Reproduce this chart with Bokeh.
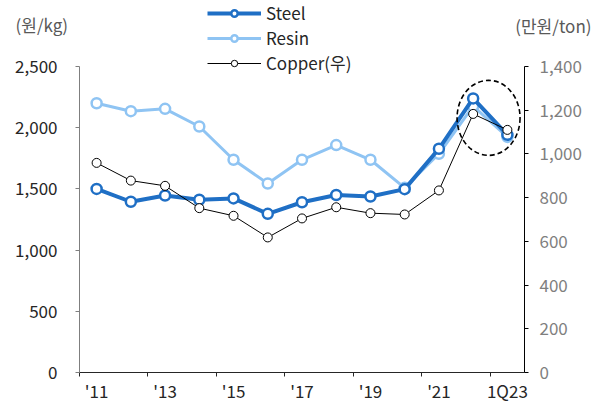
from bokeh.plotting import figure
from bokeh.models import (Range1d, LinearAxis, FixedTicker, NumeralTickFormatter,
                          Legend, LegendItem, Label)
from bokeh.embed import file_html
from bokeh.resources import INLINE

# ---- data ----
categories = ["'11", "'12", "'13", "'14", "'15", "'16", "'17", "'18", "'19", "'20", "'21", "'22", "1Q23"]
steel = [1500, 1395, 1446, 1411, 1422, 1296, 1391, 1450, 1438, 1498, 1828, 2239, 1942]    # 원/kg
resin = [2200, 2135, 2154, 2010, 1738, 1544, 1738, 1858, 1738, 1509, 1787, 2176, 1925]    # 원/kg
copper = [959, 878, 854, 752, 717, 618, 705, 756, 729, 723, 833, 1183, 1110]              # 만원/ton (right)
left_ticks = [0, 500, 1000, 1500, 2000, 2500]
right_ticks = [0, 200, 400, 600, 800, 1000, 1200, 1400]
series_names = ["Steel", "Resin", "Copper(우)"]
left_unit = "(원/kg)"
right_unit = "(만원/ton)"

FONT = "Noto Sans CJK KR"
STEEL_C = "#1f6fc5"
RESIN_C = "#8fc4f3"
COPPER_C = "#000000"

# ---- layout (pixels) ----
W, H = 601, 403
PL, PR, PT, PB = 79, 524, 66, 372      # plot box edges inside the canvas

n = len(categories)
xs = list(range(n))
x0, x1 = -0.5, n - 0.5
kx = (PR - PL) / (x1 - x0)
ly0, ly1 = left_ticks[0], left_ticks[-1]
ky = (PB - PT) / (ly1 - ly0)
ry0, ry1 = right_ticks[0], right_ticks[-1]
kr = (PB - PT) / (ry1 - ry0)

x_range = Range1d(x0 - PL / kx, x1 + (W - PR) / kx)
y_range = Range1d(ly0 - (H - PB) / ky, ly1 + PT / ky)
r_range = Range1d(ry0 - (H - PB) / kr, ry1 + PT / kr)

p = figure(width=W, height=H, output_backend="svg", toolbar_location=None,
           x_range=x_range, y_range=y_range, x_axis_location=None, y_axis_location=None,
           min_border=0)
p.extra_y_ranges = {"right": r_range}
p.outline_line_color = None
p.grid.visible = False
p.background_fill_color = "white"
p.border_fill_color = "white"

# x axis: labels at every other category, tick marks at category boundaries
shown = list(range(0, n, 2))
xax = LinearAxis(fixed_location=ly0, bounds=(x0, x1))
xax.ticker = FixedTicker(ticks=shown, minor_ticks=[i - 0.5 for i in shown])
xax.major_label_overrides = {i: categories[i] for i in shown}
xax.major_tick_out = 0
xax.major_tick_in = 0
xax.minor_tick_out = 4
xax.minor_tick_in = 0
xax.minor_tick_line_color = "#262626"
xax.axis_line_color = "#262626"
xax.major_label_standoff = 1
xax.major_label_text_font = FONT
xax.major_label_text_font_size = "17px"
xax.major_label_text_color = "#262626"
p.add_layout(xax, "below")

# left axis
yax = LinearAxis(fixed_location=x0, bounds=(ly0, ly1))
yax.ticker = FixedTicker(ticks=left_ticks, minor_ticks=[])
yax.formatter = NumeralTickFormatter(format="0,0")
yax.major_tick_out = 4
yax.major_tick_in = 0
yax.major_tick_line_color = "#7f7f7f"
yax.axis_line_color = "#7f7f7f"
yax.major_label_standoff = 18
yax.major_label_text_font = FONT
yax.major_label_text_font_size = "17px"
yax.major_label_text_color = "#262626"
p.add_layout(yax, "left")

# right axis
rax = LinearAxis(y_range_name="right", fixed_location=x1, bounds=(ry0, ry1))
rax.ticker = FixedTicker(ticks=right_ticks, minor_ticks=[])
rax.formatter = NumeralTickFormatter(format="0,0")
rax.major_tick_out = 4
rax.major_tick_in = 0
rax.major_tick_line_color = "#000000"
rax.axis_line_color = "#000000"
rax.major_label_standoff = 11
rax.major_label_text_font = FONT
rax.major_label_text_font_size = "17px"
rax.major_label_text_color = "#7f7f7f"
p.add_layout(rax, "right")

# series
r_line = p.line(xs, resin, line_color=RESIN_C, line_width=3)
r_pts = p.scatter(xs, resin, size=10, fill_color="white", line_color=RESIN_C, line_width=2.5)
s_line = p.line(xs, steel, line_color=STEEL_C, line_width=4)
s_pts = p.scatter(xs, steel, size=10, fill_color="white", line_color=STEEL_C, line_width=2.5)
c_line = p.line(xs, copper, line_color=COPPER_C, line_width=1, y_range_name="right")
c_pts = p.scatter(xs, copper, size=9, fill_color="white", line_color=COPPER_C, line_width=1,
                  y_range_name="right")

# dashed highlight around the last two periods
hx = (xs[-2] + xs[-1]) / 2 - 0.05
hy = (steel[-2] + steel[-1]) / 2 - 10
p.ellipse(x=[hx], y=[hy], width=1.84, height=613, fill_color=None,
          line_color="black", line_width=1.6, line_dash="5 3")

legend = Legend(items=[
    LegendItem(label=series_names[0], renderers=[s_line, s_pts]),
    LegendItem(label=series_names[1], renderers=[r_line, r_pts]),
    LegendItem(label=series_names[2], renderers=[c_line, c_pts]),
], location=(207, H - 75), orientation="vertical")
legend.glyph_width = 54
legend.glyph_height = 16
legend.label_height = 16
legend.spacing = -3
legend.padding = 0
legend.margin = 0
legend.label_standoff = 5
legend.label_text_font = FONT
legend.label_text_font_size = "17px"
legend.label_text_color = "#262626"
legend.border_line_color = None
legend.background_fill_alpha = 0
p.add_layout(legend, "center")

p.add_layout(Label(x=15, y=H - 24, x_units="screen", y_units="screen", text=left_unit,
                   text_align="left", text_baseline="middle",
                   text_font=FONT, text_font_size="17px", text_color="#595959"))
p.add_layout(Label(x=591, y=H - 25, x_units="screen", y_units="screen", text=right_unit,
                   text_align="right", text_baseline="middle",
                   text_font=FONT, text_font_size="17px", text_color="#595959"))

open("out.html", "w").write(file_html(p, INLINE))
